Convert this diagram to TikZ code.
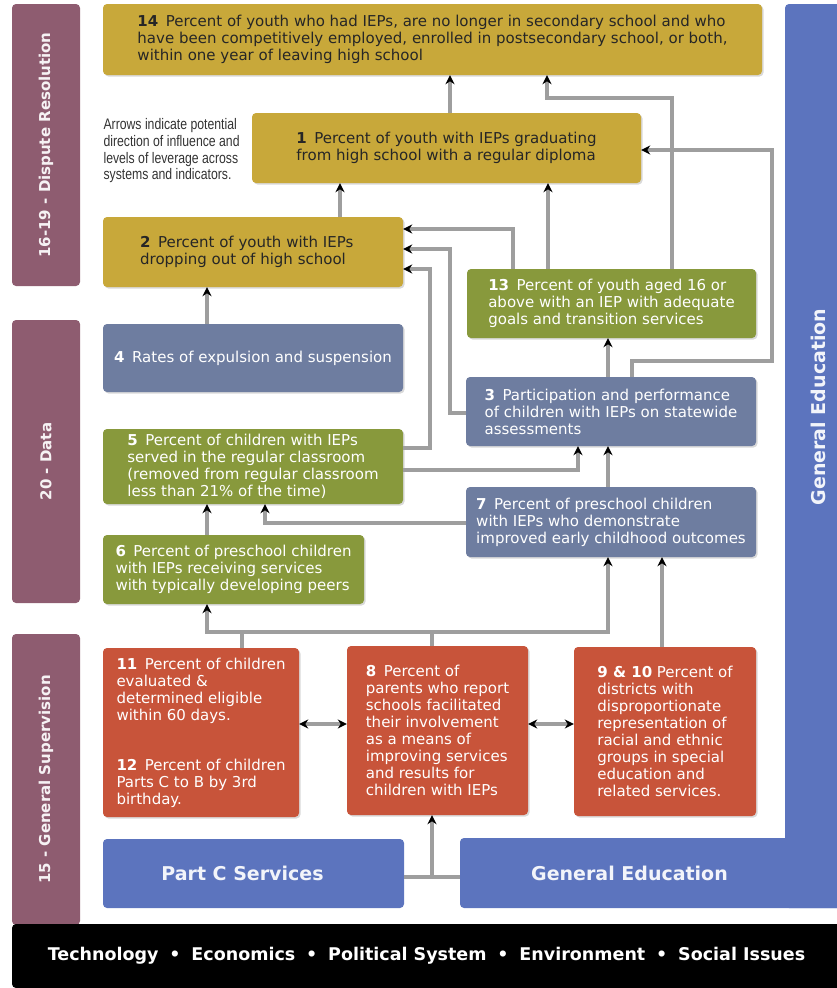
\documentclass[tikz,border=0pt]{standalone}
\usepackage{fontspec}
\setmainfont{DejaVu Sans}
\newfontfamily\notefont[FakeStretch=0.8]{Liberation Sans}
\usetikzlibrary{arrows.meta, shadows}

\definecolor{iepgold}{HTML}{C8A83A}
\definecolor{iepgreen}{HTML}{88993C}
\definecolor{iepslate}{HTML}{6E7DA0}
\definecolor{iepred}{HTML}{C8543A}
\definecolor{iepmauve}{HTML}{8E5C70}
\definecolor{iepblue}{HTML}{5C74BE}

\begin{document}
\begin{tikzpicture}[x=1pt, y=-1pt, >={Stealth[black, length=9pt, width=9pt]},
  box/.style={rounded corners=4pt, inner sep=0pt, align=left, text=white,
    font=\fontsize{15}{17}\selectfont,
    drop shadow={shadow xshift=1.5pt, shadow yshift=-1.5pt, opacity=0.3}},
  goldbox/.style={box, fill=iepgold, text=black!85},
  greenbox/.style={box, fill=iepgreen},
  slatebox/.style={box, fill=iepslate},
  redbox/.style={box, fill=iepred},
  sidebar/.style={fill=iepmauve, rounded corners=4pt, rotate=90, text=white!92!iepmauve,
    font=\bfseries\fontsize{15}{18}\selectfont},
  bluebox/.style={fill=iepblue, rounded corners=4pt, text=white!92!iepblue,
    font=\bfseries\fontsize{19}{21}\selectfont},
  link/.style={draw=black!38, line width=3.6pt}]
  \useasboundingbox (0,0) rectangle (837,988);

  % side bars
  \node[sidebar, minimum width=282pt, minimum height=68pt] (bar1) at (46,145) {16-19 - Dispute Resolution};
  \node[sidebar, minimum width=283pt, minimum height=68pt] (bar2) at (46,461.5) {20 - Data};
  \node[sidebar, minimum width=291pt, minimum height=68pt] (bar3) at (46,779.5) {15 - General Supervision};

  % general education frame
  \fill[iepblue, rounded corners=4pt] (785,4) rectangle (845,908);
  \node[bluebox, minimum width=385pt, minimum height=70pt] (gened) at (652.5,873) {\hspace*{-46pt}General Education};
  \node[rotate=90, text=white!92!iepblue, font=\bfseries\fontsize{19}{21}\selectfont] (genedv) at (818,407) {General Education};
  \node[bluebox, minimum width=301pt, minimum height=69pt] (partc) at (253.5,873.5) {\hspace*{-22pt}Part C Services};

  % outcome boxes
  \node[goldbox, minimum width=659pt, minimum height=71pt] (n14) at (432.5,39.5)
    {\textbf{14}\enspace Percent of youth who had IEPs, are no longer in secondary school and who\\
     have been competitively employed, enrolled in postsecondary school, or both,\\
     within one year of leaving high school};
  \node[goldbox, minimum width=389pt, minimum height=70pt] (n1) at (446.5,148)
    {\textbf{1}\enspace Percent of youth with IEPs graduating\\ from high school with a regular diploma};
  \node[goldbox, minimum width=300pt, minimum height=70pt] (n2) at (253,252)
    {\textbf{2}\enspace Percent of youth with IEPs\\ dropping out of high school\hspace*{20pt}};
  \node[anchor=north west, align=left, text=black!80, font=\notefont\fontsize{15.3}{16.7}\selectfont] (note) at (100,115)
    {Arrows indicate potential\\ direction of influence and\\ levels of leverage across\\ systems and indicators.};

  % middle boxes
  \node[greenbox, minimum width=289pt, minimum height=69pt] (n13) at (611.5,303.5)
    {\textbf{13}\enspace Percent of youth aged 16 or\\ above with an IEP with adequate\\ goals and transition services};
  \node[slatebox, minimum width=300pt, minimum height=68pt] (n4) at (253,358)
    {\textbf{4}\enspace Rates of expulsion and suspension};
  \node[slatebox, minimum width=290pt, minimum height=69pt] (n3) at (611,411.5)
    {\textbf{3}\enspace Participation and performance\\ of children with IEPs on statewide\\ assessments};
  \node[greenbox, minimum width=300pt, minimum height=75pt] (n5) at (253,466.5)
    {\textbf{5}\enspace Percent of children with IEPs\\ served in the regular classroom\\ (removed from regular classroom\\ less than 21\% of the time)};
  \node[slatebox, minimum width=290pt, minimum height=70pt] (n7) at (611,522)
    {\textbf{7}\enspace Percent of preschool children\\ with IEPs who demonstrate\\ improved early childhood outcomes};
  \node[greenbox, minimum width=261pt, minimum height=69pt] (n6) at (233.5,569.5)
    {\textbf{6}\enspace Percent of preschool children\\ with IEPs receiving services\\ with typically developing peers};

  % supervision boxes
  \node[redbox, minimum width=196pt, minimum height=169pt] (n11) at (201,732.5)
    {\textbf{11}\enspace Percent of children\\ evaluated \&\\ determined eligible\\ within 60 days.\\[33pt]
     \textbf{12}\enspace Percent of children\\ Parts C to B by 3rd\\ birthday.};
  \node[redbox, minimum width=181pt, minimum height=169pt] (n8) at (437.5,730.5)
    {\textbf{8}\enspace Percent of\\ parents who report\\ schools facilitated\\ their involvement\\ as a means of\\ improving services\\ and results for\\ children with IEPs};
  \node[redbox, minimum width=182pt, minimum height=169pt] (n9) at (665,731.5)
    {\textbf{9 \& 10} Percent of\\ districts with\\ disproportionate\\ representation of\\ racial and ethnic\\ groups in special\\ education and\\ related services.};

  % outside forces
  \node[fill=black, rounded corners=4pt, minimum width=833pt, minimum height=64pt, text=white,
    font=\bfseries\fontsize{17.5}{20}\selectfont] (forces) at (428.5,956)
    {Technology\hspace{0.62em}•\hspace{0.62em}Economics\hspace{0.62em}•\hspace{0.62em}Political System\hspace{0.62em}•\hspace{0.62em}Environment\hspace{0.62em}•\hspace{0.62em}Social Issues\hspace*{4pt}};

  % arrows to the top
  \draw[link, ->] (n1.north -| 450,0) -- (n14.south -| 450,0);
  \draw[link, ->] (n2.north -| 340,0) -- (n1.south -| 340,0);
  \draw[link, ->] (n13.north -| 548,0) -- (n1.south -| 548,0);
  \draw[link, ->] (n13.north -| 672,0) -- (672,98) -| (n14.south -| 547,0);
  \draw[link, ->] (n13.north -| 513,0) |- (n2.east |- 0,229);
  \draw[link, ->] (n3.west |- 0,413) -| (450,249) -- (n2.east |- 0,249);
  \draw[link, ->] (n5.east |- 0,448) -| (430,269) -- (n2.east |- 0,269);
  \draw[link, ->] (n3.north -| 632,0) |- (772,361) |- (n1.east |- 0,150);
  \draw[link, ->] (n4.north -| 207,0) -- (n2.south -| 207,0);

  % arrows in the middle
  \draw[link, ->] (n3.north -| 608,0) -- (n13.south -| 608,0);
  \draw[link, ->] (n7.north -| 608,0) -- (n3.south -| 608,0);
  \draw[link, ->] (n5.east |- 0,470) -| (n3.south -| 578,0);
  \draw[link, ->] (n7.west |- 0,523) -| (n5.south -| 265,0);
  \draw[link, ->] (n6.north -| 207,0) -- (n5.south -| 207,0);

  % arrows from the bottom
  \coordinate (bus) at (207,632);
  \draw[link, <->] (n6.south -| bus) -- (bus) -| (n7.south -| 608,0);
  \draw[link] (n11.north -| 242,0) -- (bus -| 242,0);
  \draw[link] (n8.north -| 432,0) -- (bus -| 432,0);
  \draw[link, ->] (n9.north -| 662,0) -- (n7.south -| 662,0);
  \draw[link, <->] (n11.east |- 0,724) -- (n8.west |- 0,724);
  \draw[link, <->] (n8.east |- 0,724) -- (n9.west |- 0,724);
  \draw[link] (partc.east |- 0,877) -- (gened.west |- 0,877);
  \draw[link, ->] (432,877) -- (n8.south -| 432,0);
\end{tikzpicture}
\end{document}
